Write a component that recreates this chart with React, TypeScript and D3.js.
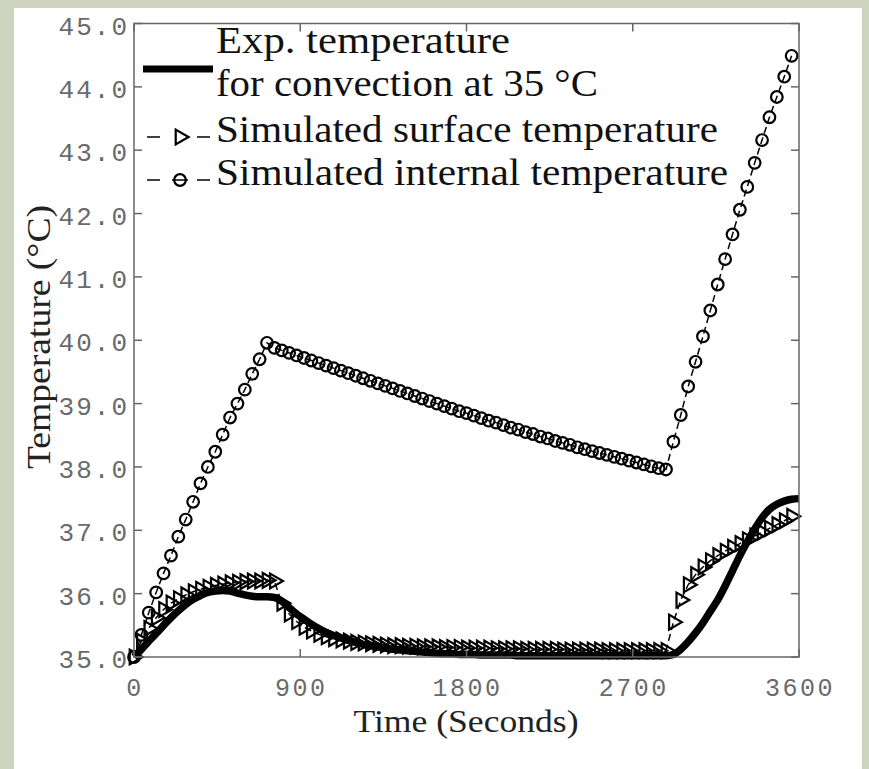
import React from "react";
import * as d3 from "d3";

// sampling times (s) of the simulated series
const simTime = [
  0, 40, 80, 120, 160, 200, 240, 280, 320, 360, 400, 440, 480, 520, 560, 600, 640, 680, 720,
  760, 800, 840, 880, 920, 960, 1000, 1040, 1080, 1120, 1160, 1200, 1240, 1280, 1320, 1360,
  1400, 1440, 1480, 1520, 1560, 1600, 1640, 1680, 1720, 1760, 1800, 1840, 1880, 1920, 1960,
  2000, 2040, 2080, 2120, 2160, 2200, 2240, 2280, 2320, 2360, 2400, 2440, 2480, 2520, 2560,
  2600, 2640, 2680, 2720, 2760, 2800, 2840, 2880, 2920, 2960, 3000, 3040, 3080, 3120, 3160,
  3200, 3240, 3280, 3320, 3360, 3400, 3440, 3480, 3520, 3560,
];

const internalTemp = [
  35.0, 35.35, 35.7, 36.02, 36.32, 36.6, 36.9, 37.17, 37.45, 37.74, 38.0, 38.24, 38.51, 38.78,
  39.0, 39.22, 39.47, 39.7, 39.96,
  39.88, 39.84, 39.8, 39.76, 39.72, 39.68, 39.64, 39.6, 39.56, 39.52, 39.48, 39.44, 39.4,
  39.36, 39.32, 39.28, 39.24, 39.2, 39.16, 39.12, 39.08, 39.04, 39.0, 38.96, 38.92, 38.88,
  38.85, 38.81, 38.77, 38.73, 38.7, 38.66, 38.62, 38.59, 38.55, 38.52, 38.48, 38.45, 38.41,
  38.38, 38.35, 38.31, 38.28, 38.25, 38.22, 38.19, 38.16, 38.13, 38.1, 38.07, 38.04, 38.01,
  37.98, 37.96,
  38.4, 38.82, 39.27, 39.66, 40.06, 40.47, 40.88, 41.28, 41.67, 42.06, 42.42, 42.8, 43.16,
  43.52, 43.84, 44.16, 44.49,
];

const surfaceTemp = [
  35.0, 35.25, 35.45, 35.62, 35.75, 35.85, 35.92, 35.98, 36.03, 36.07, 36.1, 36.13, 36.15,
  36.17, 36.18, 36.19, 36.2, 36.2, 36.21,
  36.2, 35.85, 35.68, 35.56, 35.47, 35.41, 35.36, 35.32, 35.29, 35.27, 35.25, 35.23, 35.22,
  35.21, 35.2, 35.19, 35.18, 35.18, 35.17, 35.17, 35.16, 35.16, 35.16, 35.15, 35.15, 35.15,
  35.14, 35.14, 35.14, 35.14, 35.13, 35.13, 35.13, 35.13, 35.12, 35.12, 35.12, 35.12, 35.12,
  35.11, 35.11, 35.11, 35.11, 35.11, 35.11, 35.1, 35.1, 35.1, 35.1, 35.1, 35.1, 35.1, 35.1,
  35.1,
  35.55, 35.9, 36.14, 36.3, 36.42, 36.52, 36.6, 36.67, 36.73, 36.79, 36.85, 36.91, 36.97,
  37.03, 37.09, 37.15, 37.22,
];

// experiment runs to the end of the axis
const expTime = [...simTime, 3600];
const expTemp = [
  35.0, 35.12, 35.25, 35.37, 35.5, 35.62, 35.73, 35.83, 35.91, 35.97, 36.02, 36.04, 36.05,
  36.04, 36.01, 35.98, 35.96, 35.95, 35.95,
  35.94, 35.88, 35.78, 35.68, 35.6, 35.52, 35.45, 35.39, 35.34, 35.3, 35.26, 35.23, 35.2,
  35.18, 35.16, 35.14, 35.12, 35.11, 35.1, 35.09, 35.08, 35.07, 35.06, 35.05, 35.05, 35.04,
  35.04, 35.04, 35.03, 35.03, 35.03, 35.03, 35.03, 35.02, 35.02, 35.02, 35.02, 35.02, 35.02,
  35.02, 35.02, 35.02, 35.02, 35.02, 35.02, 35.02, 35.02, 35.02, 35.02, 35.02, 35.02, 35.02,
  35.02, 35.02,
  35.04, 35.12, 35.24, 35.38, 35.54, 35.72, 35.9, 36.12, 36.36, 36.6, 36.82, 37.02, 37.2,
  37.33, 37.41, 37.46, 37.49, 37.5,
];

const xTicks = [0, 900, 1800, 2700, 3600];
const yTicks = [35, 36, 37, 38, 39, 40, 41, 42, 43, 44, 45];

const serif = "'Liberation Serif', 'Times New Roman', serif";
const mono = "'Liberation Mono', 'Courier New', monospace";

function App() {
  const W = 869;
  const H = 769;
  const left = 134;
  const right = 799;
  const top = 23.5;
  const bottom = 657;
  const tickLen = 8;

  const x = d3.scaleLinear().domain([0, 3600]).range([left, right]);
  const y = d3.scaleLinear().domain([35, 45]).range([bottom, top]);

  const simLine = (vals: number[]) =>
    d3
      .line<number>()
      .x((d, i) => x(simTime[i]))
      .y(d => y(d))(vals) as string;

  const expLine = d3
    .line<number>()
    .x((d, i) => x(expTime[i]))
    .y(d => y(d))
    .curve(d3.curveMonotoneX)(expTemp) as string;

  const tri = d3.symbol(d3.symbolTriangle, 95)() as string;

  const triangle = (cx: number, cy: number, key: any) => (
    <path
      key={key}
      d={tri}
      transform={`translate(${cx},${cy}) rotate(90)`}
      fill="none"
      stroke="#000"
      strokeWidth={2.2}
    />
  );

  const circle = (cx: number, cy: number, key: any) => (
    <circle key={key} cx={cx} cy={cy} r={5.8} fill="none" stroke="#000" strokeWidth={2.2} />
  );

  return (
    <div style={{ position: "absolute", left: 0, top: 0 }}>
      <svg width={W} height={H} style={{ display: "block" }}>
        <rect x={0} y={0} width={W} height={H} fill="#cdd3bd" />
        <rect x={14} y={8} width={848} height={H - 8} fill="#fff" />

        {/* internal temperature */}
        <path d={simLine(internalTemp)} fill="none" stroke="#000" strokeWidth={1.5} strokeDasharray="7 4" />
        {internalTemp.map((d, i) => circle(x(simTime[i]), y(d), "c" + i))}

        {/* surface temperature */}
        <path d={simLine(surfaceTemp)} fill="none" stroke="#000" strokeWidth={1.5} strokeDasharray="7 4" />
        {surfaceTemp.map((d, i) => triangle(x(simTime[i]), y(d), "t" + i))}

        {/* experiment */}
        <path d={expLine} fill="none" stroke="#000" strokeWidth={7.5} strokeLinejoin="round" />

        {/* axes box */}
        <rect x={left} y={top} width={right - left} height={bottom - top} fill="none" stroke="#666" strokeWidth={1.5} />
        {yTicks.map(t => (
          <g key={"y" + t}>
            <line x1={left} x2={left + tickLen} y1={y(t)} y2={y(t)} stroke="#666" strokeWidth={1.5} />
            <line x1={right} x2={right - tickLen} y1={y(t)} y2={y(t)} stroke="#666" strokeWidth={1.5} />
            <text
              x={129}
              y={y(t) + 11}
              textAnchor="end"
              fontFamily={mono}
              fontSize={26}
              letterSpacing={2}
              fill="#6a6a6a"
            >
              {t.toFixed(1)}
            </text>
          </g>
        ))}
        {xTicks.map(t => (
          <g key={"x" + t}>
            <line x1={x(t)} x2={x(t)} y1={bottom} y2={bottom - tickLen} stroke="#666" strokeWidth={1.5} />
            <line x1={x(t)} x2={x(t)} y1={top} y2={top + tickLen} stroke="#666" strokeWidth={1.5} />
            <text
              x={x(t) + 1}
              y={696}
              textAnchor="middle"
              fontFamily={mono}
              fontSize={25}
              letterSpacing={2.5}
              fill="#6a6a6a"
            >
              {t}
            </text>
          </g>
        ))}

        {/* axis titles */}
        <text x={466} y={732} textAnchor="middle" fontFamily={serif} fontSize={31} textLength={225} lengthAdjust="spacingAndGlyphs" fill="#222">
          Time (Seconds)
        </text>
        <text
          transform="translate(50,337) rotate(-90)"
          textAnchor="middle"
          fontFamily={serif}
          fontSize={33}
          textLength={264}
          lengthAdjust="spacingAndGlyphs"
          fill="#222"
        >
          Temperature (°C)
        </text>

        {/* legend */}
        <line x1={143} x2={213} y1={69} y2={69} stroke="#000" strokeWidth={7} />
        <text x={216} y={53} fontFamily={serif} fontSize={38} textLength={294} lengthAdjust="spacingAndGlyphs" fill="#111">
          Exp. temperature
        </text>
        <text x={216} y={96} fontFamily={serif} fontSize={38} textLength={382} lengthAdjust="spacingAndGlyphs" fill="#111">
          for convection at 35 °C
        </text>

        <line x1={147} x2={160} y1={137} y2={137} stroke="#000" strokeWidth={1.5} />
        <line x1={197} x2={210} y1={137} y2={137} stroke="#000" strokeWidth={1.5} />
        {triangle(180, 137, "lt")}
        <text x={216} y={142} fontFamily={serif} fontSize={38} textLength={502} lengthAdjust="spacingAndGlyphs" fill="#111">
          Simulated surface temperature
        </text>

        <line x1={147} x2={160} y1={180} y2={180} stroke="#000" strokeWidth={1.5} />
        <line x1={197} x2={210} y1={180} y2={180} stroke="#000" strokeWidth={1.5} />
        <line x1={172} x2={188} y1={180} y2={180} stroke="#000" strokeWidth={1.5} />
        {circle(180, 180, "lc")}
        <text x={216} y={185} fontFamily={serif} fontSize={38} textLength={512} lengthAdjust="spacingAndGlyphs" fill="#111">
          Simulated internal temperature
        </text>
      </svg>
    </div>
  );
}

export default App;
